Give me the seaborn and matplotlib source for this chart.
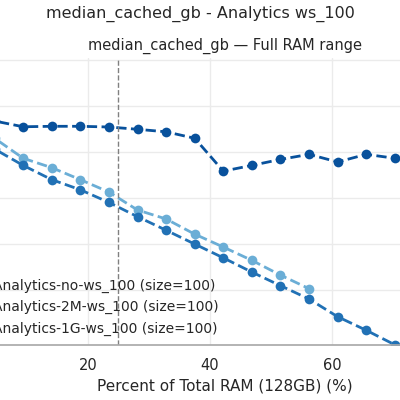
import matplotlib
matplotlib.use("Agg")
import matplotlib.pyplot as plt
import seaborn as sns
import pandas as pd

sns.set_theme(style="whitegrid")
plt.rcParams['font.family'] = ['DejaVu Sans']

step = 100 / 128 * 6  # 6GB steps as percent of 128GB
x_1g = [step * k for k in range(1, 16)]
y_1g = [113.5, 111.0, 111.2, 111.2, 110.9, 109.9, 108.8, 106.0, 91.7, 94.2, 96.8, 99.0, 95.7, 99.0, 97.3]
x_2m = [step * k for k in range(1, 16)]
y_2m = [101.3, 94.2, 88.0, 83.6, 78.1, 71.9, 66.0, 60.0, 54.0, 47.8, 41.9, 36.1, 28.4, 22.5, 16.2]
x_no = [step * k for k in range(1, 13)]
y_no = [106.0, 97.3, 93.2, 88.0, 82.6, 74.8, 70.9, 64.3, 58.7, 52.9, 46.5, 40.6]

labels = ["Analytics-no-ws_100 (size=100)", "Analytics-2M-ws_100 (size=100)", "Analytics-1G-ws_100 (size=100)"]
colors = ["#6baed6", "#2171b5", "#08519c"]

df = pd.concat([
    pd.DataFrame({"x": x_no, "y": y_no, "s": labels[0]}),
    pd.DataFrame({"x": x_2m, "y": y_2m, "s": labels[1]}),
    pd.DataFrame({"x": x_1g, "y": y_1g, "s": labels[2]}),
])

fig = plt.figure(figsize=(4, 4), dpi=100)
ax = fig.add_axes([-0.15, 0.1375, 1.425, 0.7175])
for lab, c in zip(labels, colors):
    d = df[df.s == lab]
    sns.lineplot(data=d, x="x", y="y", ax=ax, color=c, linestyle="--", linewidth=2,
                 marker="o", markersize=7, markeredgewidth=0, label=lab)
ax.axvline(25, color="gray", linestyle="--", linewidth=1)
ax.set_xlim(-4.26, 89.2)
ax.set_ylim(16.1, 140.9)
ax.set_xticks([0, 20, 40, 60, 80])
ax.set_yticks([40, 60, 80, 100, 120, 140])
ax.grid(color="#ebebeb")
for s in ["left", "right", "top"]:
    ax.spines[s].set_visible(False)
ax.spines["bottom"].set_color("#aaaaaa")
ax.tick_params(axis="x", labelsize=10.5)
ax.set_xlabel("Percent of Total RAM (128GB) (%)", fontsize=11)
ax.set_ylabel("")
ax.set_title("median_cached_gb — Full RAM range", fontsize=10.5)
ax.legend_.remove()
h, l = ax.get_legend_handles_labels()
fig.legend(h, l, loc="lower left", bbox_to_anchor=(-0.145, 0.13), frameon=False,
           fontsize=10, labelspacing=0.5)
fig.suptitle("median_cached_gb - Analytics ws_100", fontsize=11.5, x=0.5, y=0.985)
fig.savefig("out.png", dpi=100)
